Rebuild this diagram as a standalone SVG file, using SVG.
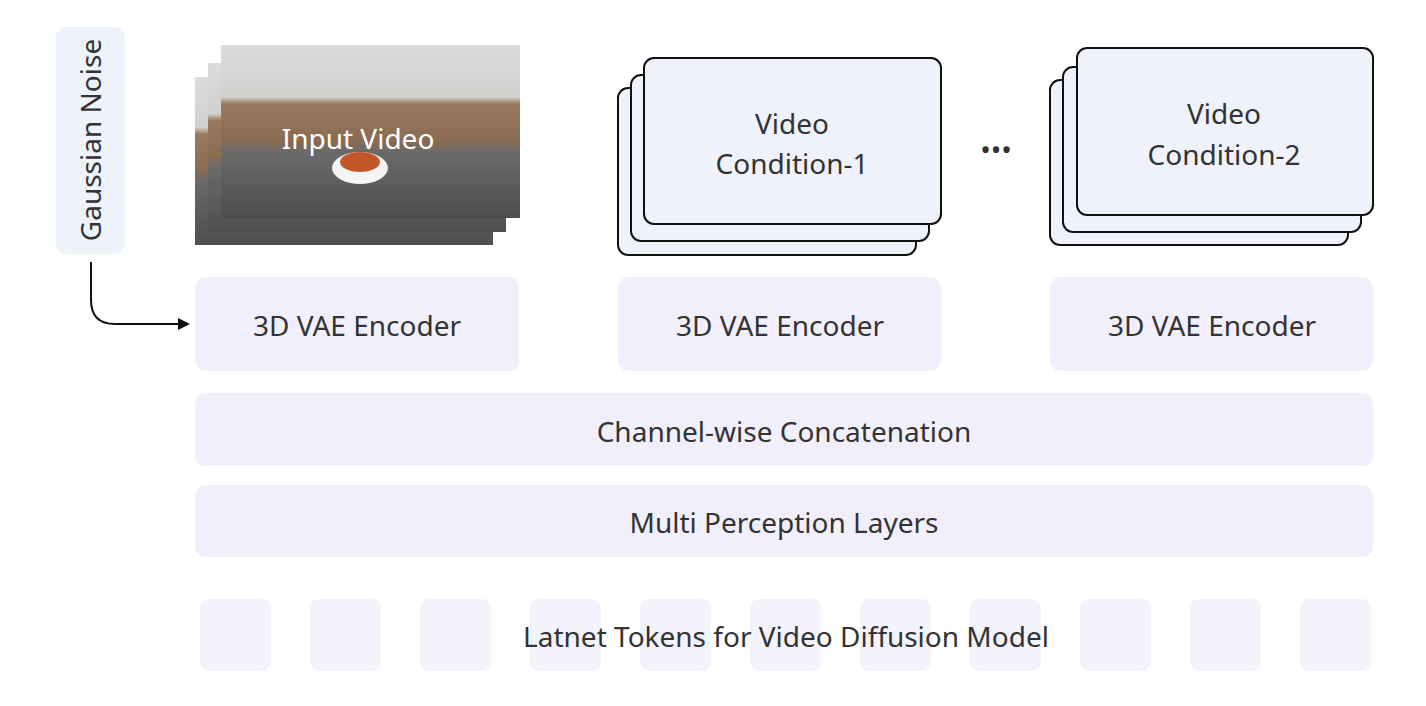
<svg xmlns="http://www.w3.org/2000/svg" width="1426" height="706" viewBox="0 0 1426 706">
<defs>
<style>
.t{font-family:"Noto Sans","Open Sans",sans-serif;font-size:28px;fill:#333;text-anchor:middle}
.enc{fill:#f2effc}
.card{fill:#eff2fb;stroke:#111;stroke-width:2}
.tok{fill:#f2f3fb}
</style>
<marker id="ah" markerWidth="12" markerHeight="12" refX="10" refY="6" orient="auto" markerUnits="userSpaceOnUse"><path d="M0,0 L12,6 L0,12 Z" fill="#111"/></marker>
<linearGradient id="pg" x1="0" y1="0" x2="0" y2="1">
<stop offset="0" stop-color="#dcdcdc"/><stop offset="0.3" stop-color="#d2d0cd"/><stop offset="0.34" stop-color="#9a7a5e"/><stop offset="0.55" stop-color="#8a6c52"/><stop offset="0.62" stop-color="#6a6a6a"/><stop offset="1" stop-color="#4e4e4e"/>
</linearGradient>
</defs>
<rect width="1426" height="706" fill="#fff"/>
<g id="noise">
<rect x="56" y="27" width="69" height="227" rx="10" fill="#eef2fb"/>
<text class="t" transform="translate(101,140) rotate(-90)">Gaussian Noise</text>
</g>
<g id="input-video">
<rect x="195" y="77" width="298" height="168" fill="url(#pg)"/>
<rect x="208" y="63" width="298" height="169" fill="url(#pg)"/>
<rect x="221" y="45" width="299" height="173" fill="url(#pg)"/>
<ellipse cx="360" cy="168" rx="28" ry="16" fill="#f4f4f4"/>
<ellipse cx="360" cy="162" rx="20" ry="10" fill="#c2582a"/>
<text class="t" x="358" y="149" style="fill:#fff">Input Video</text>
</g>
<g id="cond1">
<rect class="card" x="618" y="88" width="298" height="167" rx="10"/>
<rect class="card" x="631" y="75" width="298" height="166" rx="10"/>
<rect class="card" x="644" y="58" width="297" height="166" rx="10"/>
<text class="t" x="792" y="134">Video</text>
<text class="t" x="792" y="174">Condition-1</text>
</g>
<g id="dots"><text class="t" x="996" y="160">•••</text></g>
<g id="cond2">
<rect class="card" x="1050" y="80" width="298" height="165" rx="10"/>
<rect class="card" x="1063" y="67" width="298" height="165" rx="10"/>
<rect class="card" x="1077" y="48" width="296" height="167" rx="10"/>
<text class="t" x="1224" y="124">Video</text>
<text class="t" x="1224" y="165">Condition-2</text>
</g>
<g id="enc1"><rect class="enc" x="195" y="277" width="324" height="94" rx="10"/><text class="t" x="357" y="336">3D VAE Encoder</text></g>
<g id="enc2"><rect class="enc" x="618" y="277" width="323" height="94" rx="10"/><text class="t" x="780" y="336">3D VAE Encoder</text></g>
<g id="enc3"><rect class="enc" x="1050" y="277" width="323" height="94" rx="10"/><text class="t" x="1212" y="336">3D VAE Encoder</text></g>
<g id="concat"><rect class="enc" x="195" y="393" width="1178" height="73" rx="10"/><text class="t" x="784" y="442">Channel-wise Concatenation</text></g>
<g id="mpl"><rect class="enc" x="195" y="485" width="1178" height="72" rx="10"/><text class="t" x="784" y="533">Multi Perception Layers</text></g>
<g id="tokens">
<rect class="tok" x="200" y="599" width="71" height="72" rx="9"/>
<rect class="tok" x="310" y="599" width="71" height="72" rx="9"/>
<rect class="tok" x="420" y="599" width="71" height="72" rx="9"/>
<rect class="tok" x="530" y="599" width="71" height="72" rx="9"/>
<rect class="tok" x="640" y="599" width="71" height="72" rx="9"/>
<rect class="tok" x="750" y="599" width="71" height="72" rx="9"/>
<rect class="tok" x="860" y="599" width="71" height="72" rx="9"/>
<rect class="tok" x="970" y="599" width="71" height="72" rx="9"/>
<rect class="tok" x="1080" y="599" width="71" height="72" rx="9"/>
<rect class="tok" x="1190" y="599" width="71" height="72" rx="9"/>
<rect class="tok" x="1300" y="599" width="71" height="72" rx="9"/>
<text class="t" x="786" y="647">Latnet Tokens for Video Diffusion Model</text>
</g>
<g id="connectors">
<path d="M91,262 V300 Q91,324 115,324 H188" fill="none" stroke="#111" stroke-width="2" marker-end="url(#ah)"/>
</g>
</svg>
